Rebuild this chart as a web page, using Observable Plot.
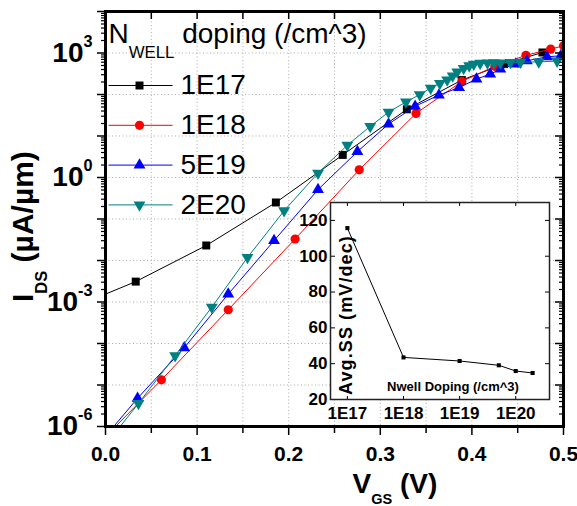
<!DOCTYPE html>
<html>
<head>
<meta charset="utf-8">
<script src="https://cdn.jsdelivr.net/npm/d3@7"></script>
<script src="https://cdn.jsdelivr.net/npm/@observablehq/plot@0.6"></script>
<style>
  html, body { margin: 0; padding: 0; background: #fff; }
  #wrap { position: relative; width: 577px; height: 506px; overflow: hidden; }
  #inset { position: absolute; left: 290px; top: 192px; }
</style>
</head>
<body>
<div id="wrap"><div id="main"></div><div id="inset"></div></div>
<script>
// ---------- transfer curves: I_DS (µA/µm) versus V_GS (V) ----------
const seriesNames = ["1E17", "1E18", "5E19", "2E20"];

const vgs1E17 = [0.033, 0.110, 0.186, 0.259, 0.329, 0.389, 0.435, 0.477];
const ids1E17 = [3.1e-3, 0.023, 0.25, 3.5, 44, 223, 540, 1030];

const vgs1E18 = [0.061, 0.134, 0.207, 0.277, 0.339, 0.389, 0.425, 0.459, 0.486, 0.500];
const ids1E18 = [1.33e-5, 6.5e-4, 0.033, 1.53, 35, 206, 478, 880, 1240, 1490];

const vgs5E19 = [0.035, 0.086, 0.134, 0.184, 0.232, 0.275, 0.309, 0.338, 0.364, 0.386, 0.405, 0.420, 0.431, 0.448, 0.460, 0.482, 0.497];
const ids5E19 = [4.8e-6, 7.9e-5, 1.55e-3, 0.030, 0.51, 4.2, 19.4, 52, 97, 147, 235, 310, 409, 540, 649, 810, 857];

const vgs2E20 = [0.036, 0.076, 0.116, 0.155, 0.195, 0.232, 0.264, 0.289, 0.309, 0.328, 0.343, 0.355, 0.365, 0.373, 0.379, 0.384, 0.391, 0.397, 0.402, 0.409, 0.417, 0.424, 0.431, 0.442, 0.453, 0.473, 0.493];
const ids2E20 = [3.6e-6, 5.1e-5, 7.5e-4, 0.0118, 0.158, 1.28, 6.0, 17.1, 37.7, 66, 99.5, 143, 184, 226, 282, 352, 424, 492, 541, 565, 580, 585, 580, 590, 600, 610, 640];

// where each curve enters the frame (left edge or bottom edge)
const entryVgs = [0, 0.011, 0.009, 0.016];
const entryIds = [1.55e-3, 1e-6, 1e-6, 1e-6];

// ---------- inset: average subthreshold swing ----------
const insetDoping = [1e17, 1e18, 1e19, 5e19, 1e20, 2e20];
const insetSS = [115.7, 43.5, 41.5, 39.1, 35.9, 34.8];

// ---------- ticks ----------
const vgsTicks = [0, 0.1, 0.2, 0.3, 0.4, 0.5];
const vgsMinorTicks = [0.05, 0.15, 0.25, 0.35, 0.45];
const idsDecades = [1e-6, 1e-5, 1e-4, 1e-3, 1e-2, 1e-1, 1, 1e1, 1e2, 1e3, 1e4];
const idsLabelled = [1e-6, 1e-3, 1, 1e3];
const dopingTicks = [1e17, 1e18, 1e19, 1e20];
const ssTicks = [20, 40, 60, 80, 100, 120];

// ---------- styling ----------
const FONT = "Arial, 'Liberation Sans', Helvetica, sans-serif";
const colors = ["#000000", "#ff0000", "#0000ff", "#008080"];
const triangleDown = {
  draw(ctx, size) {
    const y = -Math.sqrt(size / (3 * Math.sqrt(3)));
    ctx.moveTo(0, -2 * y);
    ctx.lineTo(-Math.sqrt(3) * y, y);
    ctx.lineTo(Math.sqrt(3) * y, y);
    ctx.closePath();
  }
};
const legendStroke = { draw(ctx) { ctx.moveTo(-32, 0); ctx.lineTo(32, 0); } };
const symbols = ["square", "circle", "triangle", triangleDown];
const radii = [4.5, 4.6, 4.4, 4.4];

const vgsBy = [vgs1E17, vgs1E18, vgs5E19, vgs2E20];
const idsBy = [ids1E17, ids1E18, ids5E19, ids2E20];

// frame geometry of the main panel
const M = { left: 105, right: 14, top: 11, bottom: 80 };
const W = 577, H = 506;
const frameW = W - M.left - M.right, frameH = H - M.top - M.bottom;

const yMinor = idsDecades.slice(0, -1).flatMap(d => d3.range(2, 10).map(k => d * k));

const seriesMarks = seriesNames.flatMap((name, i) => {
  const pts = vgsBy[i].map((v, j) => ({ vgs: v, ids: idsBy[i][j] }));
  const path = [{ vgs: entryVgs[i], ids: entryIds[i] }, ...pts];
  return [
    Plot.line(path, { x: "vgs", y: "ids", stroke: colors[i], strokeWidth: 1, clip: true }),
    Plot.dot(pts, { x: "vgs", y: "ids", symbol: symbols[i], fill: colors[i], stroke: "none", r: radii[i], clip: true })
  ];
});

const legendMarks = seriesNames.flatMap((name, i) => {
  const dy = 74 + i * 39.8;
  return [
    Plot.dot([name], { frameAnchor: "top-left", dx: 35, dy, symbol: legendStroke, stroke: colors[i], fill: "none", strokeWidth: 1 }),
    Plot.dot([name], { frameAnchor: "top-left", dx: 34, dy, symbol: symbols[i], fill: colors[i], stroke: "none", r: radii[i] }),
    Plot.text([name], { frameAnchor: "top-left", dx: 75, dy, textAnchor: "start", lineAnchor: "middle", fontSize: 28 })
  ];
});

const gridStyle = { stroke: "#9a9a9a", strokeOpacity: 0.8, strokeDasharray: "1,2.5" };

const main = Plot.plot({
  width: W, height: H,
  marginLeft: M.left, marginRight: M.right, marginTop: M.top, marginBottom: M.bottom,
  style: { fontFamily: FONT, background: "white", color: "black", overflow: "visible" },
  x: { domain: [0, 0.5], axis: null },
  y: { type: "log", domain: [1e-6, 1e4], axis: null },
  marks: [
    Plot.gridX([...vgsTicks.slice(1, -1), ...vgsMinorTicks], gridStyle),
    Plot.gridY(idsDecades.slice(1, -1), gridStyle),
    ...seriesMarks,
    ...legendMarks,
    Plot.text(["N_{WELL} doping (/cm^3)"], { frameAnchor: "top-left", dx: 3, dy: 23, textAnchor: "start", lineAnchor: "middle", fontSize: 28 }),
    // bottom axis: outward ticks, labels
    Plot.axisX(vgsTicks, { anchor: "bottom", tickSize: 9, fill: "none", strokeWidth: 1.5 }),
    Plot.axisX(vgsMinorTicks, { anchor: "bottom", tickSize: 7, fill: "none", strokeWidth: 1.5 }),
    Plot.axisX(vgsTicks, { anchor: "bottom", tickSize: 0, tickPadding: 20, fontSize: 21, fontWeight: "bold", tickFormat: d3.format(".1f"), label: null }),
    // top axis: inward ticks
    Plot.axisX([...vgsTicks, ...vgsMinorTicks], { anchor: "bottom", dy: -frameH, tickSize: 8, fill: "none", strokeWidth: 1.5 }),
    // left axis: outward ticks, power-of-ten labels
    Plot.axisY(idsDecades, { anchor: "left", tickSize: 8, fill: "none", strokeWidth: 1.5 }),
    Plot.axisY(yMinor, { anchor: "left", tickSize: 4, fill: "none", strokeWidth: 1.2 }),
    Plot.axisY(idsLabelled, { anchor: "left", tickSize: 0, tickPadding: 13, fontSize: 28, fontWeight: "bold", tickFormat: d => `10^{${Math.round(Math.log10(d))}}`, label: null }),
    // right axis: inward ticks
    Plot.axisY(idsDecades, { anchor: "left", dx: frameW, tickSize: 8, fill: "none", strokeWidth: 1.5 }),
    Plot.axisY(yMinor, { anchor: "left", dx: frameW, tickSize: 4, fill: "none", strokeWidth: 1.2 }),
    // axis titles
    Plot.text(["I_{DS} (µA/µm)"], { frameAnchor: "left", dx: -82, dy: 83, rotate: -90, textAnchor: "start", lineAnchor: "middle", fontSize: 30, fontWeight: "bold" }),
    Plot.text(["V_{GS} (V)"], { frameAnchor: "bottom-left", dx: 247, dy: 58, textAnchor: "start", lineAnchor: "middle", fontSize: 28, fontWeight: "bold" }),
    Plot.frame({ stroke: "black", strokeWidth: 3 })
  ]
});
document.getElementById("main").appendChild(main);

// ---------- inset panel ----------
const ssRows = insetDoping.map((d, i) => ({ doping: d, ss: insetSS[i] }));
const IW = 270, IH = 236;
const IM = { left: 40, right: 11, top: 10, bottom: 29 };
const iFrameW = IW - IM.left - IM.right, iFrameH = IH - IM.top - IM.bottom;

const inset = Plot.plot({
  width: IW, height: IH,
  marginLeft: IM.left, marginRight: IM.right, marginTop: IM.top, marginBottom: IM.bottom,
  style: { fontFamily: FONT, background: "transparent", color: "black", overflow: "visible" },
  x: { type: "log", domain: [5e16, 4e20], axis: null },
  y: { domain: [20, 130], axis: null },
  marks: [
    Plot.frame({ fill: "white", stroke: "none" }),
    Plot.line(ssRows, { x: "doping", y: "ss", stroke: "black", strokeWidth: 1 }),
    Plot.dot(ssRows, { x: "doping", y: "ss", symbol: "square", fill: "black", stroke: "none", r: 2.3 }),
    Plot.axisX(dopingTicks, { anchor: "bottom", tickSize: 0, tickPadding: 7, fontSize: 17, fontWeight: "bold", tickFormat: d => "1E" + Math.round(Math.log10(d)), label: null }),
    Plot.axisY(ssTicks, { anchor: "left", tickSize: 0, tickPadding: 3, fontSize: 17, fontWeight: "bold", label: null }),
    Plot.axisX(dopingTicks, { anchor: "bottom", dy: -iFrameH, tickSize: 4, fill: "none" }),
    Plot.axisX(dopingTicks, { anchor: "top", dy: iFrameH, tickSize: 4, fill: "none" }),
    Plot.axisY(ssTicks, { anchor: "left", dx: iFrameW, tickSize: 4, fill: "none" }),
    Plot.axisY(ssTicks, { anchor: "right", dx: -iFrameW, tickSize: 4, fill: "none" }),
    Plot.text(["Avg.SS (mV/dec)"], { frameAnchor: "left", dx: 16, dy: 14, rotate: -90, textAnchor: "middle", lineAnchor: "middle", fontSize: 18, fontWeight: "bold" }),
    Plot.text(["Nwell Doping (/cm^3)"], { frameAnchor: "bottom", dx: 13, dy: -13, textAnchor: "middle", lineAnchor: "middle", fontSize: 13, fontWeight: "bold" }),
    Plot.frame({ stroke: "#222", strokeWidth: 1.5 })
  ]
});
document.getElementById("inset").appendChild(inset);

// ---------- sub/superscript markup: _{...} and ^{...} ----------
// size and baseline offset of the scripts, as fractions of the text's font size
const scriptStyle = {
  "N_{WELL} doping (/cm^3)": { size: 0.6, shift: 0.52 },
  "I_{DS} (µA/µm)": { size: 0.55, shift: 0.47 },
  "V_{GS} (V)": { size: 0.52, shift: 0.36 }
};
function applyScripts(svg) {
  const NS = "http://www.w3.org/2000/svg";
  for (const t of svg.querySelectorAll("text")) {
    const s = t.textContent;
    if (!/[_^]\{/.test(s)) continue;
    const base = parseFloat(getComputedStyle(t).fontSize) || 16;
    const st = scriptStyle[s];
    while (t.firstChild) t.removeChild(t.firstChild);
    let cur = 0, last = 0, m;
    const add = (str, size, off) => {
      if (!str) return;
      const ts = document.createElementNS(NS, "tspan");
      ts.textContent = str;
      if (size) ts.setAttribute("font-size", size);
      const dy = off - cur;
      if (dy) ts.setAttribute("dy", dy);
      cur = off;
      t.appendChild(ts);
    };
    const re = /([_^])\{([^}]*)\}/g;
    while ((m = re.exec(s))) {
      add(s.slice(last, m.index), null, 0);
      const sub = m[1] === "_";
      const size = st ? st.size : 0.58;
      const shift = sub ? (st ? st.shift : 0.47) : -0.55;
      add(m[2], base * size, shift * base);
      last = re.lastIndex;
    }
    add(s.slice(last), null, 0);
  }
}
applyScripts(main);
applyScripts(inset);

// widen the tracking of the inset's y title
for (const t of inset.querySelectorAll("text")) {
  if (t.textContent === "Avg.SS (mV/dec)") t.setAttribute("letter-spacing", "1.1");
}
</script>
</body>
</html>
